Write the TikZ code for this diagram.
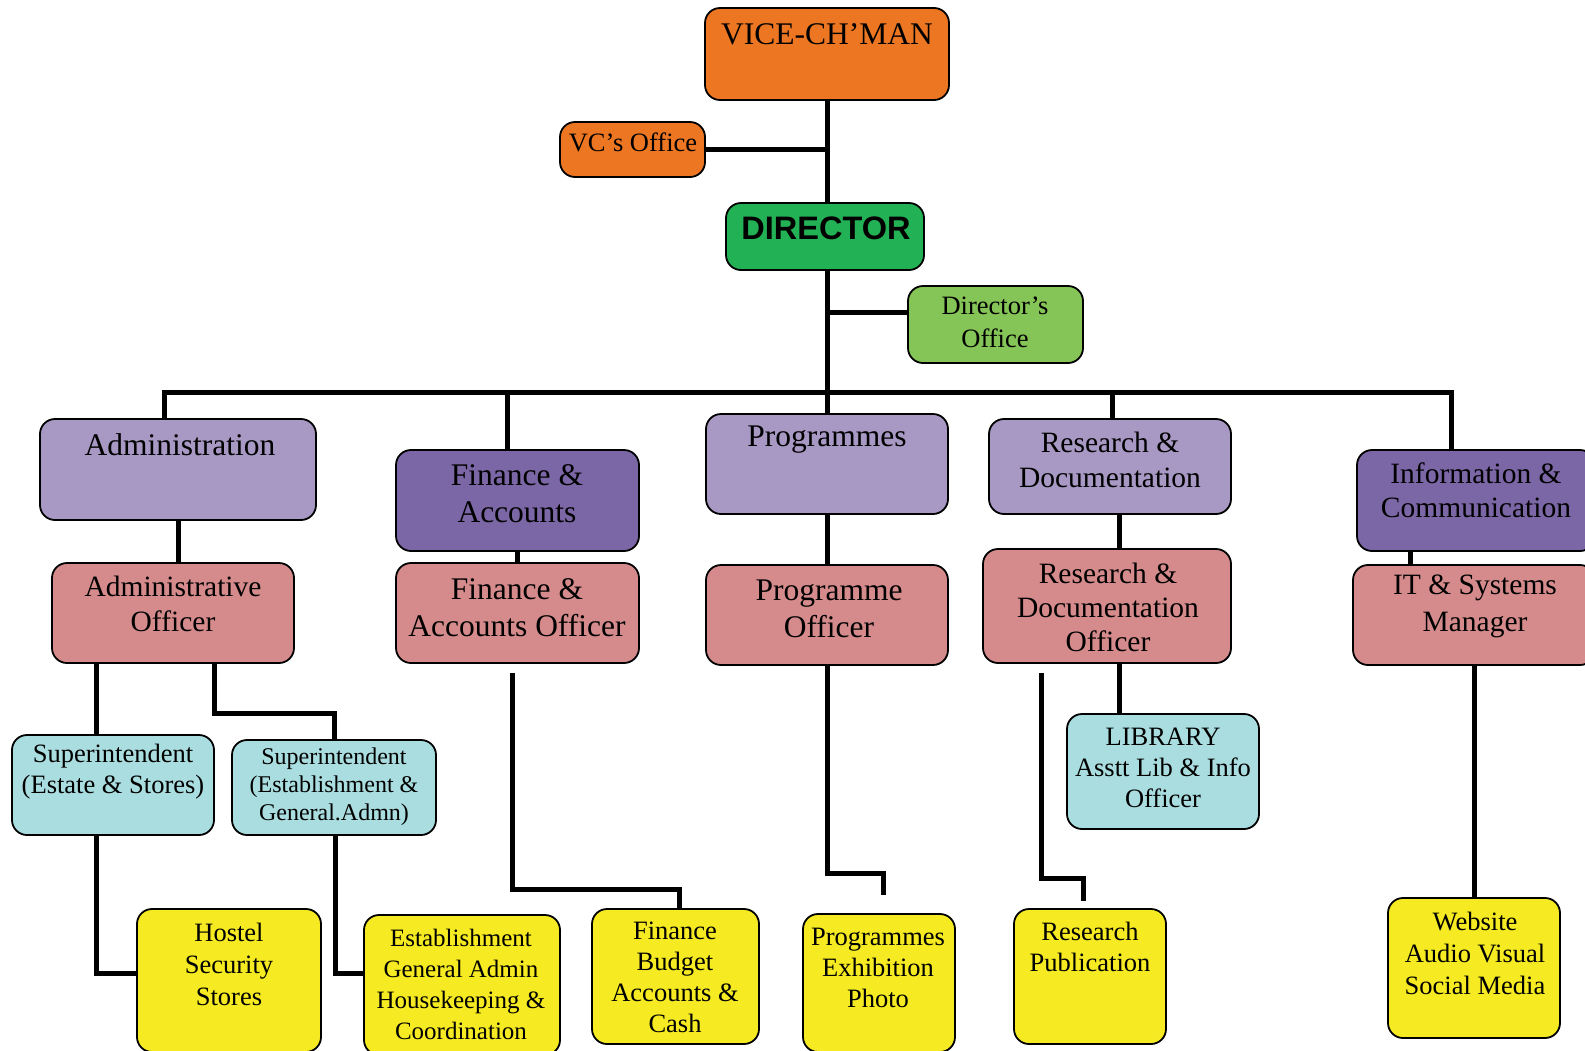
\documentclass[tikz,border=0pt]{standalone}
\usepackage{fontspec}
\setmainfont{Liberation Serif}
\newfontfamily\headsans{Liberation Sans}
\usetikzlibrary{calc}
\definecolor{vcOrange}{RGB}{236,118,34}
\definecolor{dirGreen}{RGB}{34,177,84}
\definecolor{officeGreen}{RGB}{133,196,86}
\definecolor{deptLilac}{RGB}{168,152,196}
\definecolor{deptPurple}{RGB}{123,102,166}
\definecolor{officerRose}{RGB}{213,139,140}
\definecolor{staffTeal}{RGB}{170,221,223}
\definecolor{unitYellow}{RGB}{246,235,34}
\tikzset{
  orgBox/.style={draw=black,line width=1.8,rounded corners=15,inner sep=0},
  boxLabel/.style={align=center,inner sep=0,text=black},
  link/.style={draw=black,line width=5},
  bigText/.style={boxLabel,font=\fontsize{31.5}{37}\selectfont},
  midText/.style={boxLabel,font=\fontsize{29.5}{35.5}\selectfont},
  smallText/.style={boxLabel,font=\fontsize{26.5}{31}\selectfont},
  tinyText/.style={boxLabel,font=\fontsize{24}{28}\selectfont},
}

\begin{document}
\begin{tikzpicture}[x=1pt,y=-1pt]
  \useasboundingbox (0,0) rectangle (1585,1050);

  % top of the chart
  \node[orgBox,fill=vcOrange,minimum width=244,minimum height=92] at (827,54) (vc) {};
  \node[bigText] at (827,34) (vc-t) {VICE-CH’MAN};
  \node[orgBox,fill=vcOrange,minimum width=145,minimum height=55] at (632.5,149.5) (vcOff) {};
  \node[smallText] at (633,142) (vcOff-t) {VC’s Office};
  \node[orgBox,fill=dirGreen,minimum width=198,minimum height=67] at (825,236.5) (dir) {};
  \node[boxLabel,font=\headsans\bfseries\fontsize{32.5}{38}\selectfont] at (826,228) (dir-t) {DIRECTOR};
  \node[orgBox,fill=officeGreen,minimum width=175,minimum height=77] at (995.5,324.5) (dirOff) {};
  \node[smallText,font=\fontsize{26.5}{33}\selectfont] at (995,322.5) (dirOff-t) {Director’s\\Office};
  \coordinate (bus) at (827,392);

  % departments
  \node[orgBox,fill=deptLilac,minimum width=276,minimum height=101] at (178,469.5) (adm) {};
  \node[bigText] at (180,445) (adm-t) {Administration};
  \node[orgBox,fill=deptPurple,minimum width=243,minimum height=101] at (517.5,500.5) (fin) {};
  \node[bigText] at (517,493.5) (fin-t) {Finance \&\\Accounts};
  \node[orgBox,fill=deptLilac,minimum width=242,minimum height=100] at (827,464) (prg) {};
  \node[bigText] at (827,440) (prg-t) {Programmes};
  \node[orgBox,fill=deptLilac,minimum width=242,minimum height=95] at (1110,466.5) (res) {};
  \node[midText] at (1110,460) (res-t) {Research \&\\Documentation};
  \node[orgBox,fill=deptPurple,minimum width=238,minimum height=101] at (1476,500.5) (inf) {};
  \node[midText,font=\fontsize{29.5}{34}\selectfont] at (1476,490) (inf-t) {Information \&\\Communication};

  % officers
  \node[orgBox,fill=officerRose,minimum width=242,minimum height=100] at (173,613) (admOff) {};
  \node[midText] at (173,604) (admOff-t) {Administrative\\Officer};
  \node[orgBox,fill=officerRose,minimum width=243,minimum height=100] at (517.5,613) (finOff) {};
  \node[bigText] at (517,607.5) (finOff-t) {Finance \&\\Accounts Officer};
  \node[orgBox,fill=officerRose,minimum width=242,minimum height=100] at (827,615) (prgOff) {};
  \node[bigText] at (829,608.5) (prgOff-t) {Programme\\Officer};
  \node[orgBox,fill=officerRose,minimum width=248,minimum height=114] at (1107,606) (resOff) {};
  \node[midText,font=\fontsize{29.5}{34}\selectfont] at (1108,607) (resOff-t) {Research \&\\Documentation\\Officer};
  \node[orgBox,fill=officerRose,minimum width=242,minimum height=100] at (1474,615) (itMgr) {};
  \node[midText,font=\fontsize{29.5}{37}\selectfont] at (1475,606.5) (itMgr-t) {IT \& Systems\\Manager};

  % staff
  \node[orgBox,fill=staffTeal,minimum width=202,minimum height=100] at (113,785) (supEst) {};
  \node[smallText] at (113,771.5) (supEst-t) {Superintendent\\(Estate \& Stores)};
  \node[orgBox,fill=staffTeal,minimum width=204,minimum height=95] at (334,787.5) (supGen) {};
  \node[tinyText] at (334,787) (supGen-t) {Superintendent\\(Establishment \&\\General.Admn)};
  \node[orgBox,fill=staffTeal,minimum width=192,minimum height=115] at (1163,771.5) (lib) {};
  \node[smallText] at (1163,767.5) (lib-t) {LIBRARY\\Asstt Lib \& Info\\Officer};

  % units
  \node[orgBox,fill=unitYellow,minimum width=184,minimum height=143] at (229,980.5) (hostel) {};
  \node[smallText,font=\fontsize{26.5}{32}\selectfont] at (229,964) (hostel-t) {Hostel\\Security\\Stores};
  \node[orgBox,fill=unitYellow,minimum width=196,minimum height=140] at (462,985) (estab) {};
  \node[smallText,font=\fontsize{25}{31}\selectfont] at (461,984.5) (estab-t) {Establishment\\General Admin\\Housekeeping \&\\Coordination};
  \node[orgBox,fill=unitYellow,minimum width=167,minimum height=135] at (675.5,976.5) (budget) {};
  \node[smallText] at (675,977) (budget-t) {Finance\\Budget\\Accounts \&\\Cash};
  \node[orgBox,fill=unitYellow,minimum width=152,minimum height=138] at (879,983) (exhib) {};
  \node[smallText] at (878,967.5) (exhib-t) {Programmes\\Exhibition\\Photo};
  \node[orgBox,fill=unitYellow,minimum width=152,minimum height=135] at (1090,976.5) (publ) {};
  \node[smallText] at (1090,947) (publ-t) {Research\\Publication};
  \node[orgBox,fill=unitYellow,minimum width=172,minimum height=140] at (1474,968) (web) {};
  \node[smallText,font=\fontsize{26.5}{32}\selectfont] at (1475,953) (web-t) {Website\\Audio Visual\\Social Media};

  % connectors
  \draw[link] (vc.south) -- (vc.south |- dir.north);
  \draw[link] (vcOff.east) -- (vcOff.east -| vc.south);
  \draw[link] (vc.south |- dir.south) -- (bus);
  \draw[link] ([yshift=12]dirOff.west) -- ([yshift=12]dirOff.west -| bus);
  \draw[link] (bus) -| ([xshift=-14]adm.north);
  \draw[link] (bus) -| ([xshift=-10.5]fin.north);
  \draw[link] (bus) -- (prg.north);
  \draw[link] (bus) -| ([xshift=2]res.north);
  \draw[link] (bus) -| ([xshift=-25]inf.north);

  \draw[link] (adm.south) -- (adm.south |- admOff.north);
  \draw[link] (fin.south) -- (finOff.north);
  \draw[link] (prg.south) -- (prgOff.north);
  \draw[link] ([xshift=9]res.south) -- ([xshift=9]res.south |- resOff.north);
  \draw[link] ([xshift=-66]inf.south) -- ([xshift=-66]inf.south |- itMgr.north);

  \draw[link] ([xshift=-17]supEst.north) -- ([xshift=-17]supEst.north |- admOff.south);
  \draw[link] ([xshift=41]admOff.south) -- ++(0,50) -| (supGen.north);
  \draw[link] ([xshift=12]resOff.south) -- ([xshift=12]resOff.south |- lib.north);

  \draw[link] ([xshift=-17]supEst.south) |- ([yshift=7.5]hostel.west);
  \draw[link] ([xshift=1]supGen.south) |- ([yshift=12]estab.west);
  \draw[link] ([xshift=-5.5,yshift=-9]finOff.south) -- ++(0,217) -| ([xshift=3.5]budget.north);
  \draw[link] (prgOff.south) -- ++(0,208) -| ([xshift=4,yshift=18]exhib.north);
  \draw[link] ([xshift=-66,yshift=-9]resOff.south) -- ++(0,206) -| ([xshift=-7,yshift=7]publ.north);
  \draw[link] (itMgr.south) -- (web.north);
\end{tikzpicture}
\end{document}
